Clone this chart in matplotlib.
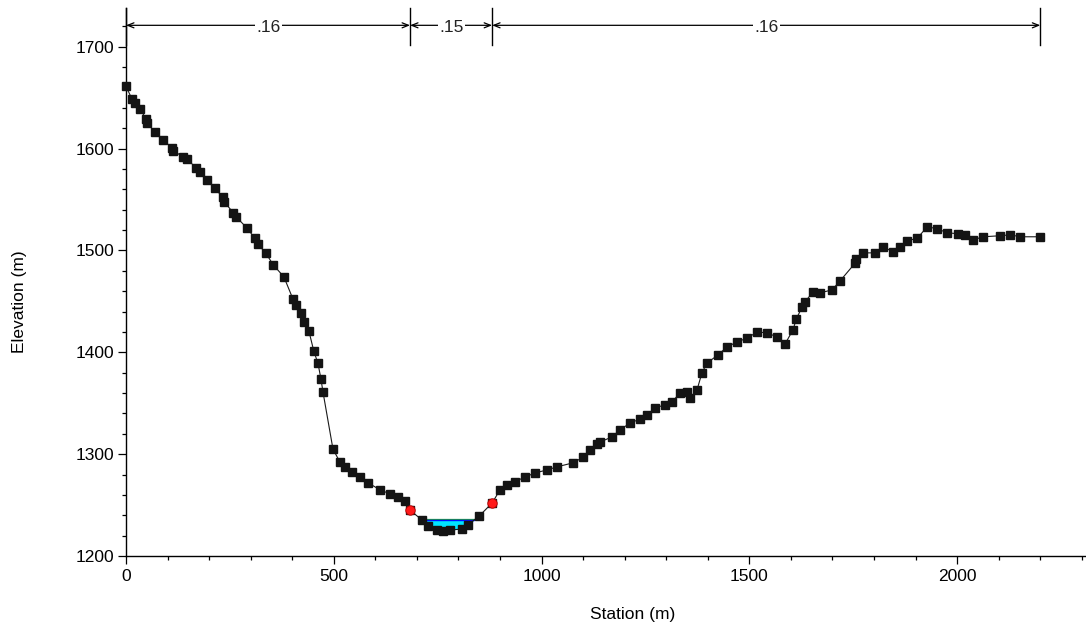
import numpy as np
import matplotlib
matplotlib.use("Agg")
import matplotlib.pyplot as plt

# ground profile of the cross section
station = [0, 14, 22, 34, 48, 51, 70, 89, 111, 113, 137, 147, 168, 178, 195, 214, 233, 236,
           258, 265, 291, 310, 318, 337, 354, 380, 402, 409, 421, 428, 440, 452, 462, 469,
           474, 498, 515, 527, 544, 563, 582, 611, 635, 655, 671, 683.5, 712, 727, 748, 763,
           780, 809, 823, 850, 881, 900, 917, 936, 960, 984, 1013, 1037, 1076, 1100, 1117,
           1134, 1141, 1170, 1189, 1213, 1237, 1254, 1273, 1297, 1314, 1333, 1350, 1357, 1374,
           1386, 1398, 1425, 1446, 1471, 1495, 1519, 1543, 1567, 1586, 1605, 1613, 1627, 1634,
           1653, 1670, 1699, 1718, 1755, 1757, 1774, 1803, 1822, 1846, 1863, 1880, 1904, 1928,
           1952, 1976, 2002, 2019, 2038, 2063, 2103, 2128, 2152, 2200]
elevation = [1661, 1649, 1645, 1639, 1629, 1625, 1616, 1608, 1601, 1598, 1592, 1590, 1581, 1577,
             1569, 1561, 1552, 1548, 1537, 1533, 1522, 1512, 1506, 1497, 1486, 1474, 1452, 1446,
             1439, 1430, 1421, 1401, 1389, 1374, 1361, 1305, 1292, 1287, 1282.5, 1277.5, 1272,
             1265, 1261, 1258, 1254, 1245, 1235.4, 1229.5, 1225.5, 1224.6, 1225.5, 1226.5,
             1230.5, 1239.3, 1252, 1265, 1270, 1273, 1277.5, 1281.5, 1284.5, 1287.5, 1291.5,
             1297, 1304, 1310, 1312, 1317, 1324, 1330.5, 1334.5, 1338.5, 1345.5, 1348.3, 1351.3,
             1360, 1361, 1355, 1363, 1380, 1389.5, 1397.5, 1405.3, 1410.2, 1414, 1420, 1419,
             1415, 1408.3, 1422, 1432.8, 1444.6, 1449.5, 1459.3, 1458.3, 1461.3, 1470, 1487.8,
             1491.7, 1497.6, 1497.6, 1503.5, 1498.6, 1503.5, 1509.4, 1512, 1523.2, 1521.3, 1517.3,
             1516.4, 1515.3, 1510.4, 1513.4, 1514.4, 1515.3, 1513.4, 1513.4]

bank_stations = [683.5, 881]
n_breaks = [0, 683.5, 881, 2200]
n_values = [".16", ".15", ".16"]
water_surface = 1235.5

station = np.array(station)
elevation = np.array(elevation)

plt.rcParams["font.family"] = ["Liberation Sans", "DejaVu Sans"]
fig = plt.figure(figsize=(10.86, 6.32), dpi=100)
ax = fig.add_axes([126 / 1086, 76 / 632, 1 - 126 / 1086, (556 - 8) / 632])

# water in the main channel
ws = np.full_like(elevation, water_surface, dtype=float)
ax.fill_between(station, elevation, ws, where=elevation < ws, interpolate=True,
                color="#00e5ff", lw=0, zorder=2)
wet = elevation < water_surface
first = wet.argmax()
left = np.interp(water_surface, elevation[first - 1:first + 1][::-1],
                 station[first - 1:first + 1][::-1])
last = len(wet) - 1 - wet[::-1].argmax()
right = np.interp(water_surface, elevation[last:last + 2], station[last:last + 2])
ax.plot([left, right], [water_surface + 0.6] * 2, color="#1f9a3a", lw=0.9, zorder=3)
ax.plot([left, right], [water_surface, water_surface], color="#0010ff", lw=1.0, zorder=3)

# ground line and points
ax.plot(station, elevation, color="#1a1a1a", lw=0.8, marker="s", markersize=5.8,
        markerfacecolor="#141414", markeredgecolor="#141414", zorder=4, clip_on=False)
bank_elev = np.interp(bank_stations, station, elevation)
ax.plot(bank_stations, bank_elev, "o", color="#ff1a1a", markeredgecolor="#b00000",
        markersize=6.8, markeredgewidth=0.6, zorder=5)

# Manning's n regions along the top
bar_lo, bar_hi, arrow_y = 1702, 1738, 1721
for s in n_breaks:
    ax.plot([s, s], [bar_lo, bar_hi], color="black", lw=1.0, zorder=4, clip_on=False)
for a, b, label in zip(n_breaks[:-1], n_breaks[1:], n_values):
    ax.annotate("", xy=(a, arrow_y), xytext=(b, arrow_y),
                arrowprops=dict(arrowstyle="<->,head_length=0.45,head_width=0.18",
                                color="black", lw=0.9, shrinkA=0, shrinkB=0))
    ax.text((a + b) / 2, arrow_y - 2.5, label, ha="center", va="center", fontsize=12.5,
            color="#222222", bbox=dict(facecolor="white", edgecolor="none", pad=1.0))

ax.set_xlim(0, 2310)
ax.set_ylim(1200, 1738)
ax.set_xticks([0, 500, 1000, 1500, 2000])
ax.set_xticks(np.arange(0, 2301, 100), minor=True)
ax.set_yticks([1200, 1300, 1400, 1500, 1600, 1700])
ax.set_yticks(np.arange(1200, 1721, 20), minor=True)
for side in ["top", "right"]:
    ax.spines[side].set_visible(False)
ax.spines["left"].set_linewidth(1.0)
ax.spines["bottom"].set_linewidth(1.0)
ax.tick_params(which="major", length=5.5, width=0.9, labelsize=12.5, pad=3)
ax.tick_params(which="minor", length=3, width=0.9)
ax.tick_params(axis="x", which="major", pad=4)

fig.text(633 / 1086, 1 - 615 / 632, "Station (m)", ha="center", va="center", fontsize=12.5)
fig.text(20 / 1086, 1 - 302 / 632, "Elevation (m)", ha="center", va="center",
         rotation=90, fontsize=12.5)

fig.savefig("out.png", dpi=100)
